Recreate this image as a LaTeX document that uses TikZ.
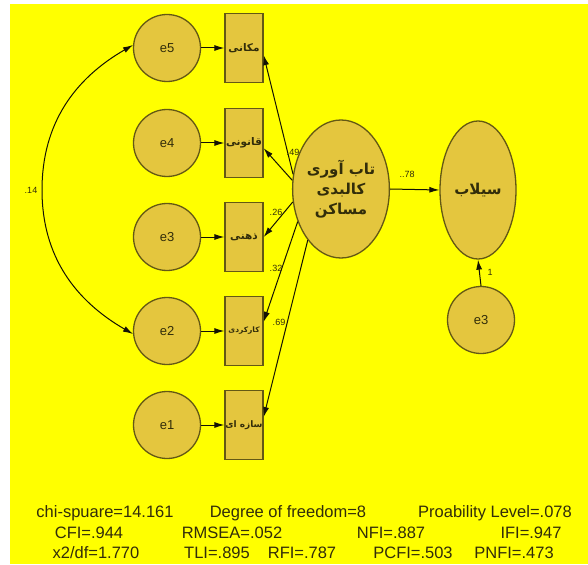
\documentclass[tikz,border=0pt]{standalone}
\usepackage{fontspec}
\setmainfont{Liberation Sans}
\newfontfamily\fa[Script=Arabic]{DejaVu Sans}
\TeXXeTstate=1
\usetikzlibrary{arrows.meta,shapes.geometric}
\definecolor{bgyellow}{RGB}{255,255,0}
\definecolor{amosfill}{RGB}{228,198,62}
\definecolor{amosline}{RGB}{100,88,20}
\definecolor{amostext}{RGB}{50,45,10}
\tikzset{
  err/.style={circle,draw=amosline,fill=amosfill,line width=1.3pt,minimum size=67pt,inner sep=0pt,font=\fontsize{13}{14}\selectfont,text=amostext},
  obs/.style={rectangle,draw=amosline,fill=amosfill,line width=1.3pt,minimum width=38pt,minimum height=69pt,inner sep=0pt,text=amostext},
  lat/.style={ellipse,draw=amosline,fill=amosfill,line width=1.3pt,minimum width=76pt,minimum height=138pt,inner sep=0pt,text=amostext},
  arr/.style={-{Latex[length=10pt,width=6pt]},line width=1pt,draw=black!80!amosline},
  cov/.style={{Latex[length=10pt,width=6pt]}-{Latex[length=10pt,width=6pt]},line width=1pt,draw=black!80!amosline},
  coef/.style={font=\fontsize{9}{10}\selectfont,text=amostext,inner sep=1pt},
  gof/.style={font=\fontsize{16.5}{18}\selectfont,text=amostext,inner sep=0pt}
}
\begin{document}
\begin{tikzpicture}[x=1pt,y=1pt]
\useasboundingbox(0,0)rectangle(588,-564);
\fill[bgyellow](10,-4)rectangle(588,-564);
%indicators and their errors
\foreach \n/\y/\fs/\lbl in {5/48/10.5/{مکانی},4/143/10.5/{قانونی},3/237/10.5/{ذهنی},2/331/7.5/{کارکردی},1/425/9/{سازه ای}}{
\node[err](e\n)at(167,-\y){e\n};
\node[obs,font=\fa\bfseries\fontsize{\fs}{10}\selectfont](m\n)at(244,-\y){\beginR\lbl\endR};
\draw[arr](e\n)--(m\n);
}
%latent variables
\node[lat,font=\fa\bfseries\fontsize{15}{20}\selectfont,align=center](res)at(341,-189){\beginR تاب آوری\endR\\\beginR کالبدی\endR\\\beginR مساکن\endR};
\node[lat,font=\fa\bfseries\fontsize{15}{20}\selectfont](flood)at(478,-190){\beginR سیلاب\endR};
\node[err](e6)at(481,-320){e3};
%paths
\draw[arr](res.163)--(m5.-20);
\draw[arr](res.170)--(m4.-15);
\draw[arr](res.195)--(m3.east);
\draw[arr](res.217)--(m2.25);
\draw[arr](res.237)--(m1.22);
\draw[arr](res.east)--(flood.west);
\draw[arr](e6.north)--(flood.south);
\coordinate(c14)at(42,-190);
\draw[cov](e5.175)to[out=210,in=90](c14)to[out=270,in=150](e2.185);
%coefficients
\node[coef](k49)at(293,-152){.49};
\node[coef](k26)at(276,-212){.26};
\node[coef](k32)at(276,-268){.32};
\node[coef](k69)at(279,-322){.69};
\node[coef](k14)at(31,-190){.14};
\node[coef](k78)at(407,-174){..78};
\node[coef](k1)at(490,-272){1};
%fit indices
\node[gof](chisq)at(105,-513){chi-spuare=14.161};
\node[gof](dof)at(288,-513){Degree of freedom=8};
\node[gof](plevel)at(495,-513){Proability Level=.078};
\node[gof](cfi)at(89,-533){CFI=.944};
\node[gof](rmsea)at(232,-533){RMSEA=.052};
\node[gof](nfi)at(391,-533){NFI=.887};
\node[gof](ifi)at(531,-533){IFI=.947};
\node[gof](xdf)at(96,-553){x2/df=1.770};
\node[gof](tli)at(217,-553){TLI=.895};
\node[gof](rfi)at(302,-553){RFI=.787};
\node[gof](pcfi)at(413,-553){PCFI=.503};
\node[gof](pnfi)at(514,-553){PNFI=.473};
\end{tikzpicture}
\end{document}
